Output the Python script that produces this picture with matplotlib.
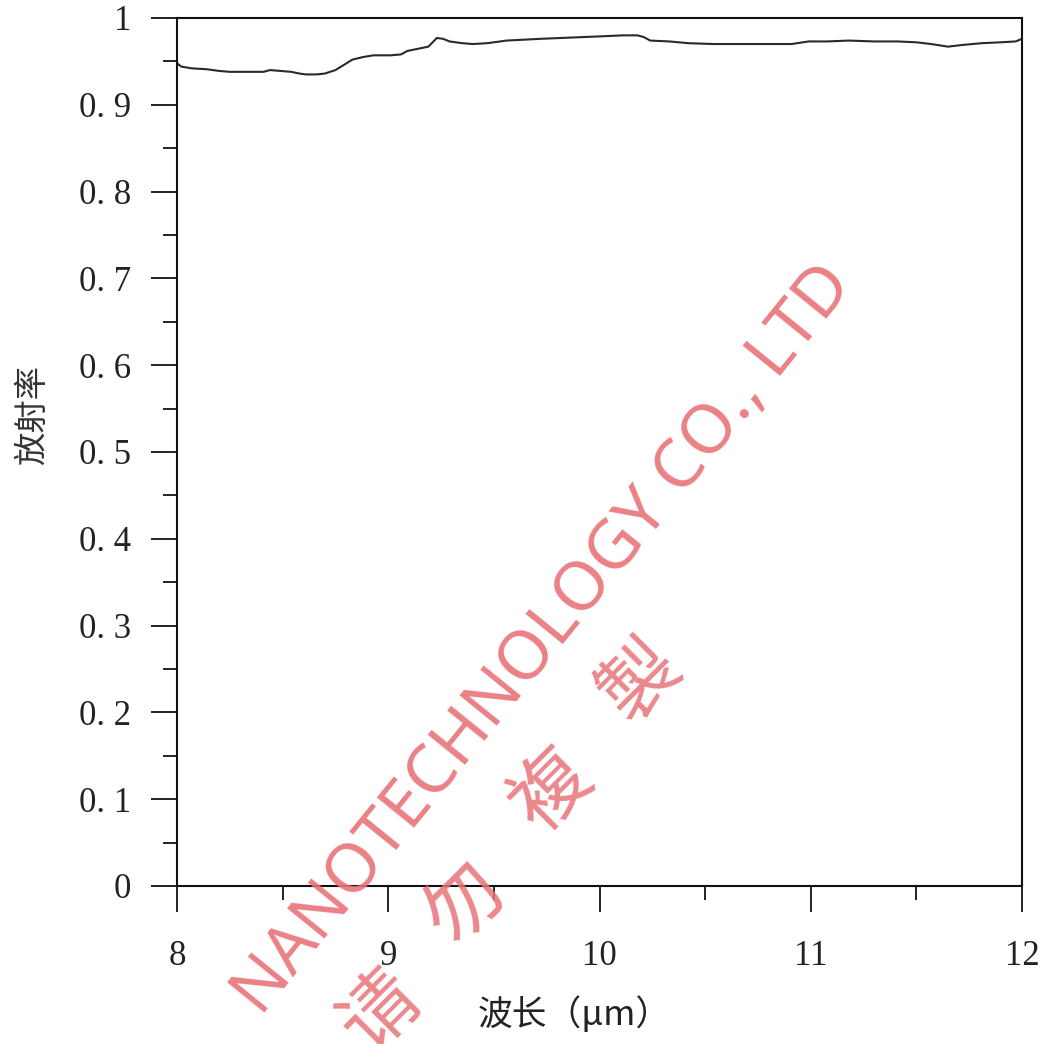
import matplotlib
matplotlib.use("Agg")
import matplotlib.pyplot as plt
from matplotlib.ticker import MultipleLocator, FixedLocator

# ---- data ----
wavelength = [8.00, 8.02, 8.07, 8.14, 8.20, 8.25, 8.33, 8.41, 8.44, 8.49, 8.54,
              8.58, 8.61, 8.66, 8.70, 8.75, 8.79, 8.83, 8.88, 8.93, 9.01, 9.06,
              9.09, 9.15, 9.19, 9.23, 9.26, 9.29, 9.35, 9.40, 9.47, 9.56, 9.64,
              9.72, 9.82, 9.92, 10.02, 10.11, 10.18, 10.21, 10.24, 10.33, 10.42,
              10.54, 10.66, 10.78, 10.91, 10.99, 11.08, 11.18, 11.30, 11.41,
              11.50, 11.57, 11.65, 11.72, 11.81, 11.90, 11.97, 12.00]
emissivity = [0.948, 0.944, 0.942, 0.941, 0.939, 0.938, 0.938, 0.938, 0.940, 0.939,
              0.938, 0.936, 0.935, 0.935, 0.936, 0.940, 0.946, 0.952, 0.955, 0.957,
              0.957, 0.958, 0.962, 0.965, 0.967, 0.977, 0.976, 0.973, 0.971, 0.970,
              0.971, 0.974, 0.975, 0.976, 0.977, 0.978, 0.979, 0.980, 0.980, 0.978,
              0.974, 0.973, 0.971, 0.970, 0.970, 0.970, 0.970, 0.973, 0.973, 0.974,
              0.973, 0.973, 0.972, 0.970, 0.967, 0.969, 0.971, 0.972, 0.973, 0.976]
x_ticks = [8, 9, 10, 11, 12]
x_tick_labels = ["8", "9", "10", "11", "12"]
y_ticks = [0, 0.1, 0.2, 0.3, 0.4, 0.5, 0.6, 0.7, 0.8, 0.9, 1.0]
y_tick_labels = ["0", "0. 1", "0. 2", "0. 3", "0. 4", "0. 5", "0. 6", "0. 7",
                 "0. 8", "0. 9", "1"]
x_label = "波长（μm）"
y_label = "放射率"
watermark_en = "NANOTECHNOLOGY CO., LTD"
watermark_cn = ["请", "勿", "複", "製"]

plt.rcParams['font.family'] = ['Liberation Serif', 'Noto Sans CJK SC', 'DejaVu Sans']

fig = plt.figure(figsize=(10.56, 10.44), dpi=100)
ax = fig.add_axes([177/1056, 1 - 886/1044, (1022 - 177)/1056, (886 - 18)/1044])

ax.plot(wavelength, emissivity, color="#2a2a2a", linewidth=1.5)

ax.set_xlim(8, 12)
ax.set_ylim(0, 1)
ax.xaxis.set_major_locator(FixedLocator(x_ticks))
ax.set_xticklabels(x_tick_labels)
ax.xaxis.set_minor_locator(MultipleLocator(0.5))
ax.yaxis.set_major_locator(FixedLocator(y_ticks))
ax.set_yticklabels(y_tick_labels)
ax.yaxis.set_minor_locator(MultipleLocator(0.05))

for s in ax.spines.values():
    s.set_linewidth(1.5)
    s.set_color("#111111")

ax.tick_params(which="major", direction="out", length=19, width=1.3,
               labelsize=25, color="#111111", labelcolor="#222222")
ax.tick_params(which="minor", direction="out", length=10, width=1.3, color="#111111")
ax.tick_params(axis="x", which="major", pad=20)
ax.tick_params(axis="y", which="major", pad=14)
ax.tick_params(top=False, right=False, which="both")

fig.text(478/1056, 1 - 1015/1044, x_label, ha="left", va="center", fontsize=25,
         family=['Noto Sans CJK SC', 'DejaVu Sans'], color="#222222")
fig.text(33/1056, 1 - 415/1044, y_label, ha="center", va="center", fontsize=24,
         rotation=90, family=['Noto Sans CJK SC', 'DejaVu Sans'], color="#333333")

# watermark
wm_color = "#E87378"
fig.text(544/1056, 1 - 640/1044, watermark_en, ha="center", va="center",
         rotation=51, rotation_mode="anchor", fontsize=49, color=wm_color,
         family=["Noto Sans"], alpha=0.9, zorder=10)
cn_pos = [(382, 1012), (466, 905), (553, 793), (641, 682)]
for ch, (px, py) in zip(watermark_cn, cn_pos):
    fig.text(px/1056, 1 - py/1044, ch, ha="center", va="center", rotation=45,
             rotation_mode="anchor", fontsize=56, color=wm_color,
             family=["Noto Sans CJK TC"], fontweight="light", alpha=0.85, zorder=10)

fig.savefig("out.png", dpi=100, facecolor="white")
